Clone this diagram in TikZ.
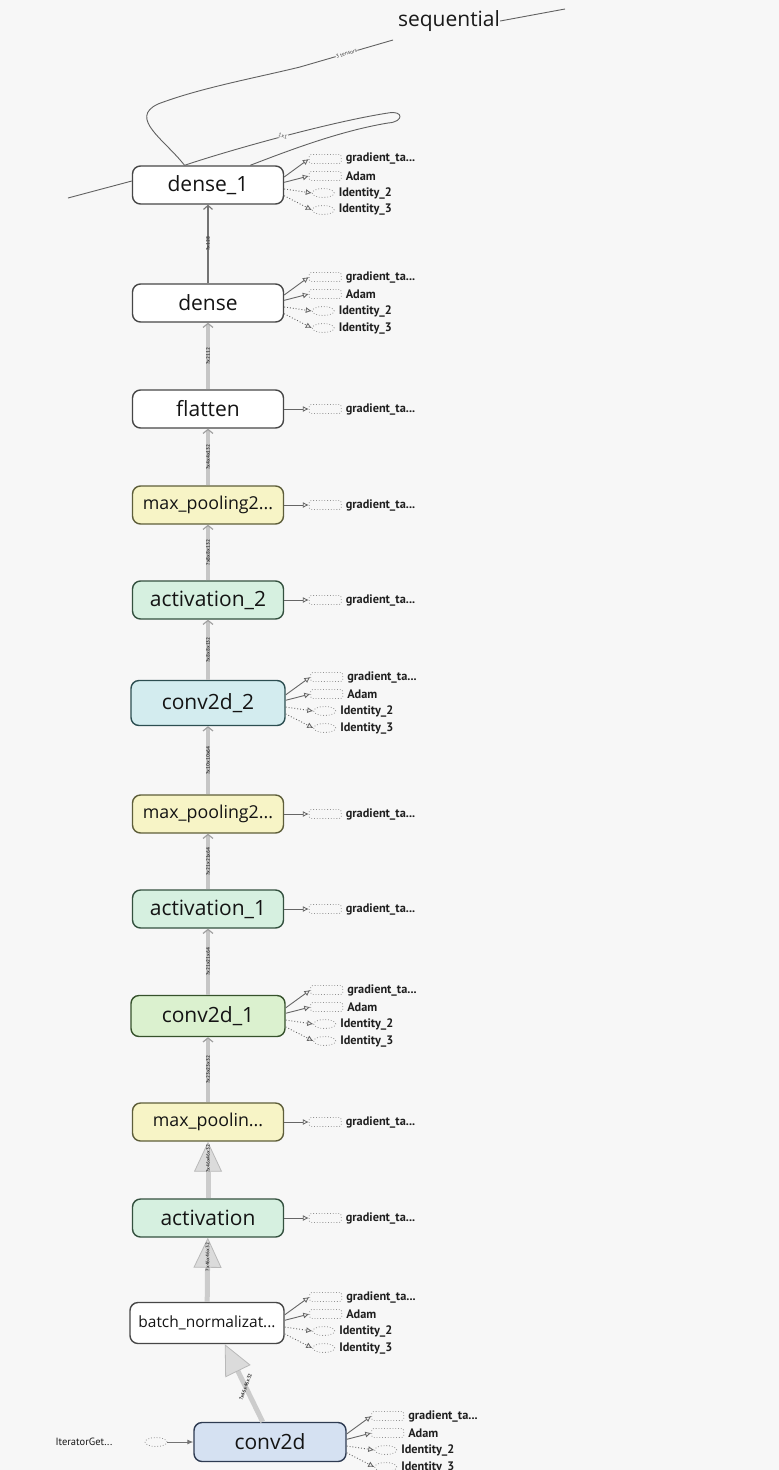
\documentclass[tikz,border=0pt]{standalone}
\usepackage{fontspec}
\setmainfont{Open Sans}
\newfontfamily\smallf{PT Sans}
\usetikzlibrary{arrows.meta,shapes.geometric,calc}
\definecolor{bg}{HTML}{F7F7F7}
\definecolor{yelF}{HTML}{F7F4C6}
\definecolor{yelD}{HTML}{5E5E3A}
\definecolor{grnF}{HTML}{D6F0E0}
\definecolor{grnD}{HTML}{34513F}
\definecolor{cyaF}{HTML}{D3ECEF}
\definecolor{cyaD}{HTML}{2C4E51}
\definecolor{limF}{HTML}{DBF1CF}
\definecolor{limD}{HTML}{36522C}
\definecolor{bluF}{HTML}{D5E1F2}
\definecolor{bluD}{HTML}{2E3B52}
\newcommand\fourouts[1]{%
  \node[aux]  (#1g) at ($(#1.east)+(41,-26)$) {};
  \node[aux]  (#1a) at ($(#1.east)+(41,-9)$) {};
  \node[auxe] (#1i) at ($(#1.east)+(39,8)$) {};
  \node[auxe] (#1j) at ($(#1.east)+(39,25)$) {};
  \node[auxlbl] (#1gl) at ($(#1g.east)+(4,0)$) {gradient\_ta...};
  \node[auxlbl] (#1al) at ($(#1a.east)+(4,0)$) {Adam};
  \node[auxlbl] (#1il) at ($(#1i.east)+(4,0)$) {Identity\_2};
  \node[auxlbl] (#1jl) at ($(#1j.east)+(4,0)$) {Identity\_3};
  \draw[ctl] (#1.6) -- (#1g.west);
  \draw[ctl] (#1.2) -- (#1a.west);
  \draw[ctl,dotted] (#1.-3) -- (#1i.west);
  \draw[ctl,dotted] (#1.-8) -- (#1j.west);
}
\newcommand\oneout[1]{%
  \node[aux] (#1g) at ($(#1.east)+(41,0)$) {};
  \node[auxlbl] (#1gl) at ($(#1g.east)+(4,0)$) {gradient\_ta...};
  \draw[ctl] (#1) -- (#1g);
}
\begin{document}
\begin{tikzpicture}[x=1pt,y=-1pt,
  op/.style={rounded corners=8pt, line width=1.4pt, minimum width=151pt,
    minimum height=38pt, inner sep=0pt, text=black!92,
    font=\fontsize{21}{21}\selectfont},
  whiteop/.style={op, fill=white, draw=black!72},
  yelop/.style={op, fill=yelF, draw=yelD, font=\fontsize{17.8}{18}\selectfont},
  grnop/.style={op, fill=grnF, draw=grnD},
  aux/.style={draw=gray!85, dotted, line width=0.8pt, rounded corners=2pt,
    minimum width=32pt, minimum height=9pt, inner sep=0pt},
  auxe/.style={ellipse, draw=gray!85, dotted, line width=0.8pt,
    minimum width=22pt, minimum height=9pt, inner sep=0pt},
  auxlbl/.style={anchor=west, inner sep=0pt, text=black!88,
    font=\smallf\bfseries\fontsize{12.3}{12}\selectfont},
  ctl/.style={draw=black!60, line width=0.9pt,
    -{Latex[open,length=6pt,width=6pt,line width=0.8pt]}},
  thinedge/.style={draw=black!55, line width=1.4pt,
    -{Straight Barb[length=4pt,width=9pt,line width=1.1pt]}},
  midedge/.style={draw=gray!45, line width=3.4pt,
    -{Straight Barb[length=4pt,width=10pt,line width=1.2pt,color=gray!75]}},
  bigedge/.style={draw=gray!40, line width=5pt,
    -{Triangle[length=30pt,width=28pt,line width=0.8pt,color=gray!55,fill=gray!28]}},
  elbl/.style={midway, rotate=90, inner sep=0.3pt, text=black!75,
    font=\smallf\bfseries\fontsize{5.2}{5}\selectfont},
  loopline/.style={draw=black!62, line width=0.9pt},
  looplbl/.style={sloped, inner sep=0.5pt, fill=bg, text=black!75,
    font=\smallf\fontsize{5.5}{5}\selectfont}
  ]
\fill[bg] (0,0) rectangle (779,1470);
\useasboundingbox (0,0) rectangle (779,1470);

% main operation nodes
\node[whiteop] (dense1) at (208,185) {dense\_1};
\node[whiteop] (dense)  at (208,303) {dense};
\node[whiteop] (flatten) at (208,409) {flatten};
\node[yelop] (mp3) at (208,505) {max\_pooling2...};
\node[grnop] (act2) at (208,600) {activation\_2};
\node[op, fill=cyaF, draw=cyaD, minimum width=154pt, minimum height=45pt] (conv2) at (208,703) {conv2d\_2};
\node[yelop] (mp2) at (208,814) {max\_pooling2...};
\node[grnop] (act1) at (208,909) {activation\_1};
\node[op, fill=limF, draw=limD, minimum width=154pt, minimum height=41pt] (conv1) at (208,1016) {conv2d\_1};
\node[yelop] (mp1) at (208,1122) {max\_poolin...};
\node[grnop] (act) at (208,1218) {activation};
\node[whiteop, minimum width=154pt, minimum height=41pt, font=\fontsize{15.5}{16}\selectfont] (bn) at (207,1323) {batch\_normalizat...};
\node[op, fill=bluF, draw=bluD, minimum width=152pt, minimum height=39pt] (conv) at (270,1442) {conv2d};

% input
\node[inner sep=0pt, text=black!90, font=\smallf\fontsize{10.5}{10}\selectfont] (iter) at (84,1442) {IteratorGet...};
\node[auxe] (iterE) at (156,1442) {};
\draw[draw=black!55, line width=0.9pt, -{Latex[length=6pt,width=5pt]}] (iterE) -- (conv);

% data edges
\draw[thinedge] (dense) -- node[elbl]{?x128} (dense1);
\draw[midedge] (flatten) -- node[elbl]{?x2112} (dense);
\draw[midedge] (mp3) -- node[elbl]{?x4x4x132} (flatten);
\draw[midedge] (act2) -- node[elbl]{?x8x8x132} (mp3);
\draw[midedge] (conv2) -- node[elbl]{?x8x8x132} (act2);
\draw[midedge] (mp2) -- node[elbl]{?x10x10x64} (conv2);
\draw[midedge] (act1) -- node[elbl]{?x21x21x64} (mp2);
\draw[midedge] (conv1) -- node[elbl]{?x21x21x64} (act1);
\draw[midedge] (mp1) -- node[elbl]{?x23x23x32} (conv1);
\draw[bigedge] (act) -- node[elbl, pos=0.7]{?x46x46x32} (mp1);
\draw[bigedge] (bn) -- node[elbl, pos=0.7]{?x46x46x32} (act);
\draw[bigedge] (conv.110) -- node[elbl, rotate=-20, pos=0.45]{?x46x46x32} (bn.-50);

% side outputs
\fourouts{dense1}
\fourouts{dense}
\oneout{flatten}
\oneout{mp3}
\oneout{act2}
\fourouts{conv2}
\oneout{mp2}
\oneout{act1}
\fourouts{conv1}
\oneout{mp1}
\oneout{act}
\fourouts{bn}
\fourouts{conv}

% sequential loop lines
\node[inner sep=0pt, text=black!90, font=\fontsize{21}{21}\selectfont] (seq) at (449,21) {sequential};
\coordinate (tail) at (68,198);
\coordinate (sqin) at (393,40);
\coordinate (sqend) at (565,9);
\draw[loopline] (seq.east) -- (sqend);
\draw[loopline] (dense1.140) .. controls (165,140) and (128,118) .. (158,104)
   .. controls (200,88) and (255,78) .. (300,67)
   -- node[looplbl]{3 tensors} (sqin);
\draw[loopline] (tail) -- (dense1.177);
\draw[loopline] (dense1.140) .. controls (230,150) and (330,122) .. (388,113)
   .. controls (404,110) and (404,122) .. (388,123)
   .. controls (340,131) and (290,150) .. (dense1.25);
\node[looplbl, rotate=-14] (onex) at (283,136) {1x1};
\end{tikzpicture}
\end{document}
